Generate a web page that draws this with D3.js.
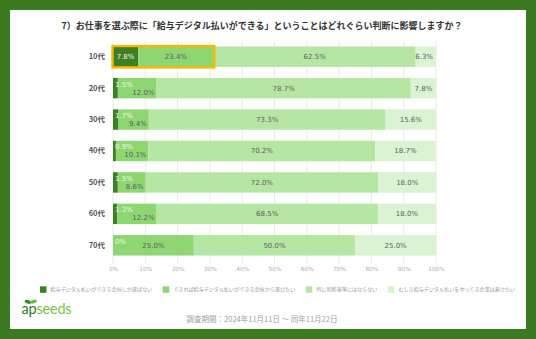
<!DOCTYPE html>
<html>
<head>
<meta charset="utf-8">
<script src="https://cdn.jsdelivr.net/npm/d3@7/dist/d3.min.js"></script>
<style>
  html, body { margin: 0; padding: 0; background: #3c7a22; }
  svg { display: block; }
</style>
</head>
<body>
<svg id="chart" width="536" height="339"></svg>
<script>
// Survey: how much does "salary paid digitally" affect choice of job, by age group
const categories = ["10代", "20代", "30代", "40代", "50代", "60代", "70代"];
const seriesNames = [
  "給与デジタル払いができる会社しか選ばない",
  "できれば給与デジタル払いができる会社から選びたい",
  "特に判断基準にはならない",
  "むしろ給与デジタル払いをやってる企業は避けたい"
];
const onlyDigital   = [7.8, 1.5, 1.7, 0.9, 1.5, 1.3, 0];
const preferDigital = [23.4, 12.0, 9.4, 10.1, 8.6, 12.2, 25.0];
const noMatter      = [62.5, 78.7, 73.3, 70.2, 72.0, 68.5, 50.0];
const avoidDigital  = [6.3, 7.8, 15.6, 18.7, 18.0, 18.0, 25.0];
const tickValues = [0, 10, 20, 30, 40, 50, 60, 70, 80, 90, 100];
const highlightCategory = "10代";

const series = [onlyDigital, preferDigital, noMatter, avoidDigital];
const colors = ["#3f7f24", "#8dd672", "#b6e6a4", "#dbf3d2"];
const labelColors = ["#eef7e8", "#5d5d5d", "#5d5d5d", "#5d5d5d"];

const svg = d3.select("#chart");
const W = 536, H = 339;

// outer frame and white panel
svg.append("rect").attr("width", W).attr("height", H).attr("fill", "#3c7a22");
svg.append("rect").attr("x", 10).attr("y", 10).attr("width", 516).attr("height", 319).attr("fill", "#ffffff");

// title
svg.append("text")
  .attr("x", 262).attr("y", 28.5)
  .attr("text-anchor", "middle")
  .attr("font-family", "'Noto Sans CJK JP', sans-serif")
  .attr("font-weight", 700)
  .attr("font-size", 9)
  .attr("fill", "#333")
  .text("7）お仕事を選ぶ際に「給与デジタル払いができる」ということはどれぐらい判断に影響しますか？");

const x = d3.scaleLinear().domain([0, 100]).range([113, 436]);
const y = d3.scaleBand().domain(categories).range([41, 261]).paddingInner(0.35).paddingOuter(0.175);

// vertical grid
svg.append("g").selectAll("line").data(tickValues).join("line")
  .attr("x1", d => x(d)).attr("x2", d => x(d))
  .attr("y1", 41).attr("y2", 264)
  .attr("stroke", "#ebebeb").attr("stroke-width", 1);

// x axis labels
const xAxis = d3.axisBottom(x).tickValues(tickValues).tickFormat(d => d + "%").tickSize(0).tickPadding(0);
const gx = svg.append("g").attr("transform", "translate(0,267)").call(xAxis);
gx.select(".domain").remove();
gx.selectAll("text")
  .attr("font-family", "'DejaVu Sans', sans-serif")
  .attr("font-size", 5.8)
  .attr("fill", "#b0b0b0");

// y axis labels
const yAxis = d3.axisLeft(y).tickSize(0).tickPadding(8);
const gy = svg.append("g").attr("transform", `translate(${x(0)},0)`).call(yAxis);
gy.select(".domain").remove();
gy.selectAll("text")
  .attr("font-family", "'Noto Sans CJK JP', sans-serif")
  .attr("font-weight", 700)
  .attr("font-size", 7.5)
  .attr("fill", "#555");

// stacked rows
const rows = categories.map((c, i) => {
  let acc = 0;
  const segs = series.map((s, k) => {
    const seg = { cat: c, k, v: s[i], x0: acc, x1: acc + s[i] };
    acc += s[i];
    return seg;
  });
  return { cat: c, segs };
});

const barG = svg.append("g");
rows.forEach(row => {
  barG.selectAll(null).data(row.segs).join("rect")
    .attr("x", d => x(d.x0))
    .attr("y", y(row.cat))
    .attr("width", d => Math.max(0, x(d.x1) - x(d.x0)))
    .attr("height", y.bandwidth())
    .attr("fill", d => colors[d.k]);
});

// highlight frame around the first two segments of one row
{
  const row = rows.find(r => r.cat === highlightCategory);
  const end = row.segs[1].x1;
  svg.append("rect")
    .attr("x", x(0) - 0.5)
    .attr("y", y(highlightCategory) - 0.5)
    .attr("width", x(end) - x(0) + 1)
    .attr("height", y.bandwidth() + 1)
    .attr("fill", "none")
    .attr("stroke", "#f7b900")
    .attr("stroke-width", 2.4);
}

// value labels
const labelG = svg.append("g")
  .attr("font-family", "'DejaVu Sans', sans-serif")
  .attr("font-size", 7);
const fmt = v => (v === 0 ? "0%" : v.toFixed(1) + "%");
const rightLimit = x(100) - 3;

rows.forEach(row => {
  const cy = y(row.cat) + y.bandwidth() / 2;
  let firstBox = null;
  row.segs.forEach(seg => {
    const t = labelG.append("text")
      .attr("fill", labelColors[seg.k])
      .attr("dy", "0.35em")
      .text(fmt(seg.v));
    const w = t.node().getComputedTextLength();
    const sx0 = x(seg.x0), sx1 = x(seg.x1);
    let cx = (sx0 + sx1) / 2;
    let ty = cy;
    if (seg.k === 0) {
      if (sx1 - sx0 < w + 4) {
        // too narrow: lift the label and start it at the bar's edge
        cx = sx0 + 2 + w / 2;
        ty = cy - 4;
      }
      firstBox = [cx - w / 2, cx + w / 2, ty];
    } else if (seg.k === 1 && firstBox && firstBox[2] !== cy) {
      if (cx - w / 2 < firstBox[1] + 2) {
        // would collide with the lifted label: drop it and align to the segment end
        cx = sx1 - 2 - w / 2;
        ty = cy + 4;
      }
    }
    if (cx + w / 2 > rightLimit) cx = rightLimit - w / 2;
    t.attr("x", cx).attr("y", ty).attr("text-anchor", "middle");
  });
});

// legend
const legG = svg.append("g");
let lx = 40;
const ly = 289.5;
seriesNames.forEach((name, k) => {
  legG.append("rect").attr("x", lx).attr("y", ly - 3.2).attr("width", 6.5).attr("height", 6.5).attr("fill", colors[k]);
  const t = legG.append("text")
    .attr("x", lx + 10.5).attr("y", ly).attr("dy", "0.35em")
    .attr("font-family", "'Noto Sans CJK JP', sans-serif")
    .attr("font-size", 5.1)
    .attr("fill", "#9a9a9a")
    .text(name);
  lx += 10.5 + t.node().getComputedTextLength() + 10.5;
});

// logo
const logo = svg.append("g");
const logoText = logo.append("text")
  .attr("x", 21.5).attr("y", 313.5)
  .attr("font-family", "Lato, sans-serif")
  .attr("font-size", 14.5)
  .attr("letter-spacing", -0.2);
logoText.append("tspan").attr("fill", "#2f7a2a").text("ap");
logoText.append("tspan").attr("fill", "#7cc243").text("seeds");
// sprout leaves
logo.append("ellipse").attr("cx", 27.8).attr("cy", 301.8).attr("rx", 3.3).attr("ry", 1.8)
  .attr("transform", "rotate(20 27.8 301.8)").attr("fill", "#3f8a2c");
logo.append("ellipse").attr("cx", 33.6).attr("cy", 301.6).attr("rx", 3.3).attr("ry", 1.8)
  .attr("transform", "rotate(-20 33.6 301.6)").attr("fill", "#6cb83e");

// survey period
svg.append("text")
  .attr("x", 262).attr("y", 321.5)
  .attr("text-anchor", "middle")
  .attr("font-family", "'Noto Sans CJK JP', sans-serif")
  .attr("font-size", 7.5)
  .attr("fill", "#a0a0a0")
  .text("調査期間：2024年11月11日 〜 同年11月22日");
</script>
</body>
</html>
